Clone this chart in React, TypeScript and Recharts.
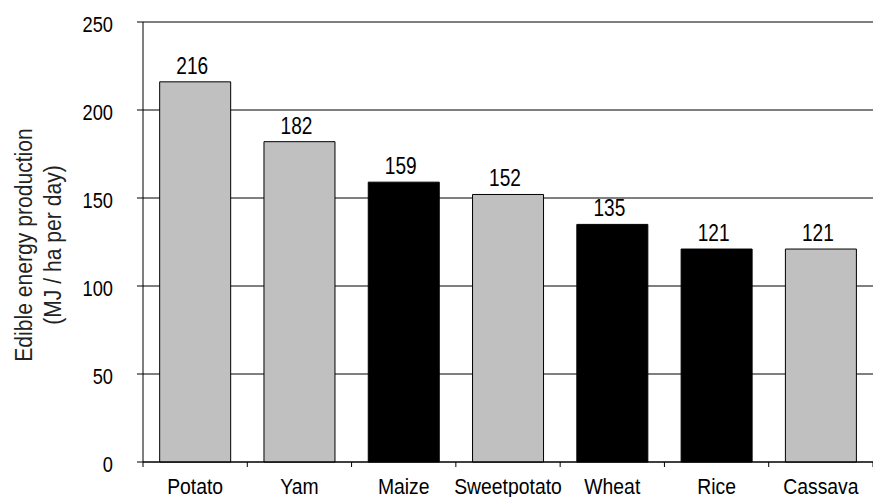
import React from 'react';
import { BarChart, Bar, XAxis, YAxis, CartesianGrid, LabelList, Cell } from 'recharts';

const crops = ['Potato', 'Yam', 'Maize', 'Sweetpotato', 'Wheat', 'Rice', 'Cassava'];
const energy = [216, 182, 159, 152, 135, 121, 121];
const isCereal = [false, false, true, false, true, true, false];
const yTicks = [0, 50, 100, 150, 200, 250];
const yTitle1 = 'Edible energy production';
const yTitle2 = '(MJ / ha per day)';

const data = crops.map((name, i) => ({ name, value: energy[i], cereal: isCereal[i] }));

const FONT = "'Liberation Sans', Arial, sans-serif";
const TICK_MARGIN = 13;

// Condensed-looking text: regular sans scaled horizontally
const CondText = ({ x, y, sx, size, anchor, rotate, fill, children }: any) => (
  <text
    x={0}
    y={0}
    transform={`translate(${x}, ${y})${rotate ? ` rotate(${rotate})` : ''} scale(${sx}, 1)`}
    textAnchor={anchor}
    fontSize={size}
    fontFamily={FONT}
    fill={fill || '#000'}
  >
    {children}
  </text>
);

const XTick = (props: any) => {
  const { x, y, payload, index, visibleTicksCount } = props;
  const off = payload.offset || 0;
  const axisY = y - TICK_MARGIN;
  return (
    <g>
      <line x1={x - off} x2={x - off} y1={axisY} y2={axisY + 5} stroke="#000" />
      {index === visibleTicksCount - 1 && (
        <line x1={x + off} x2={x + off} y1={axisY} y2={axisY + 5} stroke="#000" />
      )}
      <CondText x={x} y={axisY + 32} sx={0.88} size={22} anchor="middle">
        {payload.value}
      </CondText>
    </g>
  );
};

const YTick = (props: any) => {
  const { x, y, payload } = props;
  return (
    <CondText x={x} y={y + 10} sx={0.83} size={22} anchor="end">
      {payload.value}
    </CondText>
  );
};

const ValueLabel = (props: any) => {
  const { x, y, width, value } = props;
  return (
    <CondText x={x + width / 2 - 3} y={y - 8} sx={0.83} size={23} anchor="middle">
      {value}
    </CondText>
  );
};

const YTitle = (props: any) => {
  const vb = props.viewBox || { x: 0, y: 0, width: 0, height: 0 };
  const cy = vb.y + vb.height / 2 + 3;
  return (
    <g>
      <CondText x={vb.x + 32} y={cy} rotate={-90} sx={0.88} size={24} anchor="middle" fill="#222">
        {yTitle1}
      </CondText>
      <CondText x={vb.x + 61} y={cy} rotate={-90} sx={0.88} size={24} anchor="middle" fill="#222">
        {yTitle2}
      </CondText>
    </g>
  );
};

export default function App() {
  return (
    <div style={{ position: 'absolute', left: 0, top: 0, background: '#fff' }}>
      <BarChart
        width={873}
        height={497}
        data={data}
        margin={{ top: 22, right: 0, bottom: 0, left: 0 }}
        barCategoryGap="16%"
      >
        <CartesianGrid vertical={false} stroke="#000" strokeWidth={1} />
        <XAxis
          dataKey="name"
          height={35}
          axisLine={{ stroke: '#000' }}
          tickLine={false}
          tickSize={0}
          tickMargin={TICK_MARGIN}
          interval={0}
          tick={<XTick />}
        />
        <YAxis
          width={143}
          domain={[0, 250]}
          ticks={yTicks}
          interval={0}
          axisLine={{ stroke: '#000' }}
          tickLine={{ stroke: '#000' }}
          tickSize={6}
          tickMargin={24}
          tick={<YTick />}
          label={<YTitle />}
        />
        <Bar dataKey="value" isAnimationActive={false} stroke="#000" strokeWidth={1}>
          {data.map((d, i) => (
            <Cell key={i} fill={d.cereal ? '#000' : '#C0C0C0'} />
          ))}
          <LabelList dataKey="value" content={<ValueLabel />} />
        </Bar>
      </BarChart>
    </div>
  );
}
